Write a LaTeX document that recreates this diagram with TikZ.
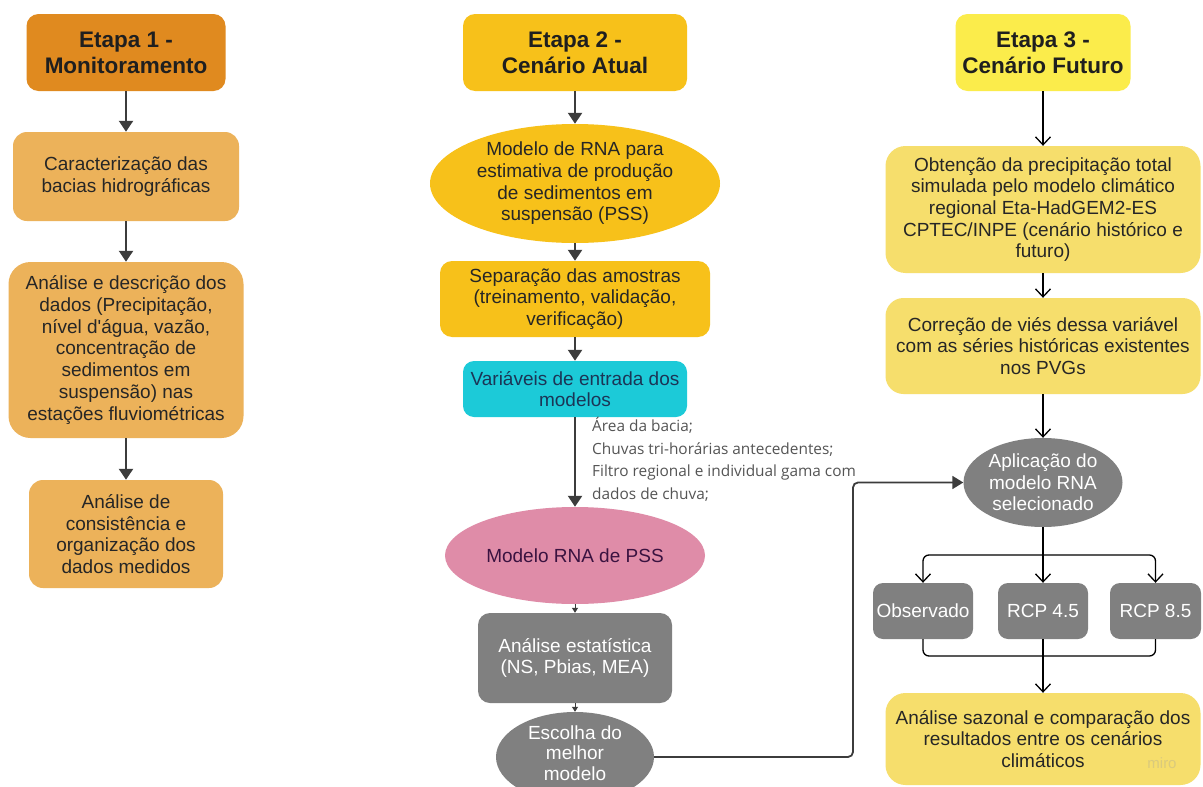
\documentclass[tikz,border=0pt]{standalone}
\usepackage{fontspec}
\setmainfont{Liberation Sans}
\newfontfamily\osans{Open Sans}
\usetikzlibrary{shapes.geometric,arrows.meta}
\definecolor{oTitle}{HTML}{E08A1F}
\definecolor{oBox}{HTML}{ECB25A}
\definecolor{gold}{HTML}{F7C11A}
\definecolor{cyanb}{HTML}{1CCAD8}
\definecolor{pinkb}{HTML}{DF8CA8}
\definecolor{grayb}{HTML}{808080}
\definecolor{yTitle}{HTML}{FBEC4B}
\definecolor{yBox}{HTML}{F6DE6C}
\definecolor{txt}{HTML}{262626}
\definecolor{arrc}{HTML}{3C3C3C}
\definecolor{navy}{HTML}{1B3556}
\definecolor{plum}{HTML}{3A1240}
\definecolor{lbl}{HTML}{555555}
\tikzset{
  body/.style={font=\fontsize{19}{21.7}\selectfont, align=center, inner sep=0pt, text=txt},
  rbox/.style={body, rectangle, rounded corners=14pt},
  ttl/.style={rbox, rounded corners=12pt, font=\fontsize{22.5}{26}\selectfont\bfseries, text=black!88, minimum width=#1, minimum height=77pt},
  ell/.style={body, ellipse},
  arrA/.style={draw=arrc, line width=2.2pt, -{Triangle[width=14pt,length=11pt]}},
  arrS/.style={draw=arrc, line width=1pt, -{Triangle[width=6pt,length=5pt]}},
  arrC/.style={draw=black, line width=1.3pt, -{Straight Barb[length=8pt,width=15pt,line width=1.3pt]}},
  lineC/.style={draw=black, line width=1.3pt},
}
\begin{document}
\begin{tikzpicture}[x=1pt,y=-1pt]
\useasboundingbox (0,0) rectangle (1203,787);
\fill[white] (0,0) rectangle (1203,787);

% ---------- Column 1 ----------
\node[ttl=199pt, fill=oTitle] (t1) at (126,52.5) {Etapa 1 -\\Monitoramento};
\node[rbox, fill=oBox, minimum width=226pt, minimum height=89pt] (c1a) at (126,176.5) {Caracterização das\\bacias hidrográficas};
\node[rbox, fill=oBox, rounded corners=22pt, minimum width=235pt, minimum height=176pt] (c1b) at (126,350) {Análise e descrição dos\\dados (Precipitação,\\nível d\textquotesingle água, vazão,\\concentração de\\sedimentos em\\suspensão) nas\\estações fluviométricas};
\node[rbox, fill=oBox, minimum width=194pt, minimum height=108pt] (c1c) at (126,534) {Análise de\\consistência e\\organização dos\\dados medidos};
\draw[arrA] (t1.south) -- (c1a.north);
\draw[arrA] (c1a.south) -- (c1b.north);
\draw[arrA] (c1b.south) -- (c1c.north);

% ---------- Column 2 ----------
\node[ttl=224pt, fill=gold] (t2) at (575,52.5) {Etapa 2 -\\Cenário Atual};
\node[ell, fill=gold, minimum width=290pt, minimum height=119pt] (e21) at (575,183.5) {Modelo de RNA para\\estimativa de produção\\de sedimentos em\\suspensão (PSS)};
\node[rbox, fill=gold, rounded corners=12pt, minimum width=270pt, minimum height=76pt] (c2a) at (575,299) {Separação das amostras\\(treinamento, validação,\\verificação)};
\node[rbox, fill=cyanb, rounded corners=11pt, text=navy, minimum width=224pt, minimum height=56pt] (c2b) at (575,389) {Variáveis de entrada dos\\modelos};
\node[ell, fill=pinkb, text=plum, minimum width=260pt, minimum height=97pt] (e22) at (575,555.5) {Modelo RNA de PSS};
\node[rbox, fill=grayb, text=white, rounded corners=12pt, minimum width=194pt, minimum height=90pt] (c2c) at (575,658) {Análise estatística\\(NS, Pbias, MEA)};
\node[ell, fill=grayb, minimum width=158pt, minimum height=90pt] (esc) at (575,757) {};
\node[body, text=white, font=\fontsize{19}{20.5}\selectfont] (esct) at (575,753) {Escolha do\\melhor\\modelo};
\node[anchor=north west, inner sep=0pt, align=left, text=lbl, font=\osans\fontsize{15.4}{22.7}\selectfont] (vars) at (592,417) {Área da bacia;\\Chuvas tri-horárias antecedentes;\\Filtro regional e individual gama com\\dados de chuva;};
\draw[arrA] (t2.south) -- (e21.north);
\draw[arrA] (e21.south) -- (c2a.north);
\draw[arrA] (c2a.south) -- (c2b.north);
\draw[arrA] (c2b.south) -- (e22.north);
\draw[arrS] (e22.south) -- (c2c.north);
\draw[arrS] (c2c.south) -- (esc.north);

% ---------- Column 3 ----------
\node[ttl=175pt, fill=yTitle] (t3) at (1043,52.5) {Etapa 3 -\\Cenário Futuro};
\node[rbox, fill=yBox, rounded corners=20pt, minimum width=315pt, minimum height=127pt] (c3a) at (1043,209.5) {Obtenção da precipitação total\\simulada pelo modelo climático\\regional Eta-HadGEM2-ES\\CPTEC/INPE (cenário histórico e\\futuro)};
\node[rbox, fill=yBox, rounded corners=18pt, minimum width=315pt, minimum height=96pt] (c3b) at (1043,346) {Correção de viés dessa variável\\com as séries históricas existentes\\nos PVGs};
\node[ell, fill=grayb, text=white, minimum width=159pt, minimum height=89pt] (apl) at (1043,482.5) {Aplicação do\\modelo RNA\\selecionado};
\node[rbox, fill=grayb, text=white, rounded corners=10pt, minimum width=100pt, minimum height=56pt] (obs) at (923,611) {Observado};
\node[rbox, fill=grayb, text=white, rounded corners=10pt, minimum width=90pt, minimum height=56pt] (r45) at (1043,611) {RCP 4.5};
\node[rbox, fill=grayb, text=white, rounded corners=10pt, minimum width=91pt, minimum height=56pt] (r85) at (1155.5,611) {RCP 8.5};
\node[rbox, fill=yBox, rounded corners=20pt, minimum width=315pt, minimum height=92pt] (fin) at (1043,739) {Análise sazonal e comparação dos\\resultados entre os cenários\\climáticos};
\node[font=\fontsize{15}{15}\selectfont, text=black!15!yBox!80!white, inner sep=0pt] (miro) at (1162,763) {miro};

\draw[arrC] (t3.south) -- (c3a.north);
\draw[arrC] (c3a.south) -- (c3b.north);
\draw[arrC] (c3b.south) -- (apl.north);
\coordinate (bj) at (1043,555);
\coordinate (mj) at (1043,656);
\draw[lineC] (apl.south) -- (bj);
\draw[arrC, rounded corners=6pt] (bj) -| (obs.north);
\draw[arrC, rounded corners=6pt] (bj) -| (r85.north);
\draw[arrC] (bj) -- (r45.north);
\draw[lineC, rounded corners=6pt] (obs.south) |- (mj) -| (r85.south);
\draw[arrC] (r45.south) -- (fin.north);

% connector from best model to application
\coordinate (cx) at (853,0);
\draw[draw=arrc, line width=1.8pt, rounded corners=5pt, -{Triangle[width=13pt,length=11pt]}]
  (esc.east) -- (esc.east -| cx) -- (cx |- apl.west) -- (apl.west);
\end{tikzpicture}
\end{document}
